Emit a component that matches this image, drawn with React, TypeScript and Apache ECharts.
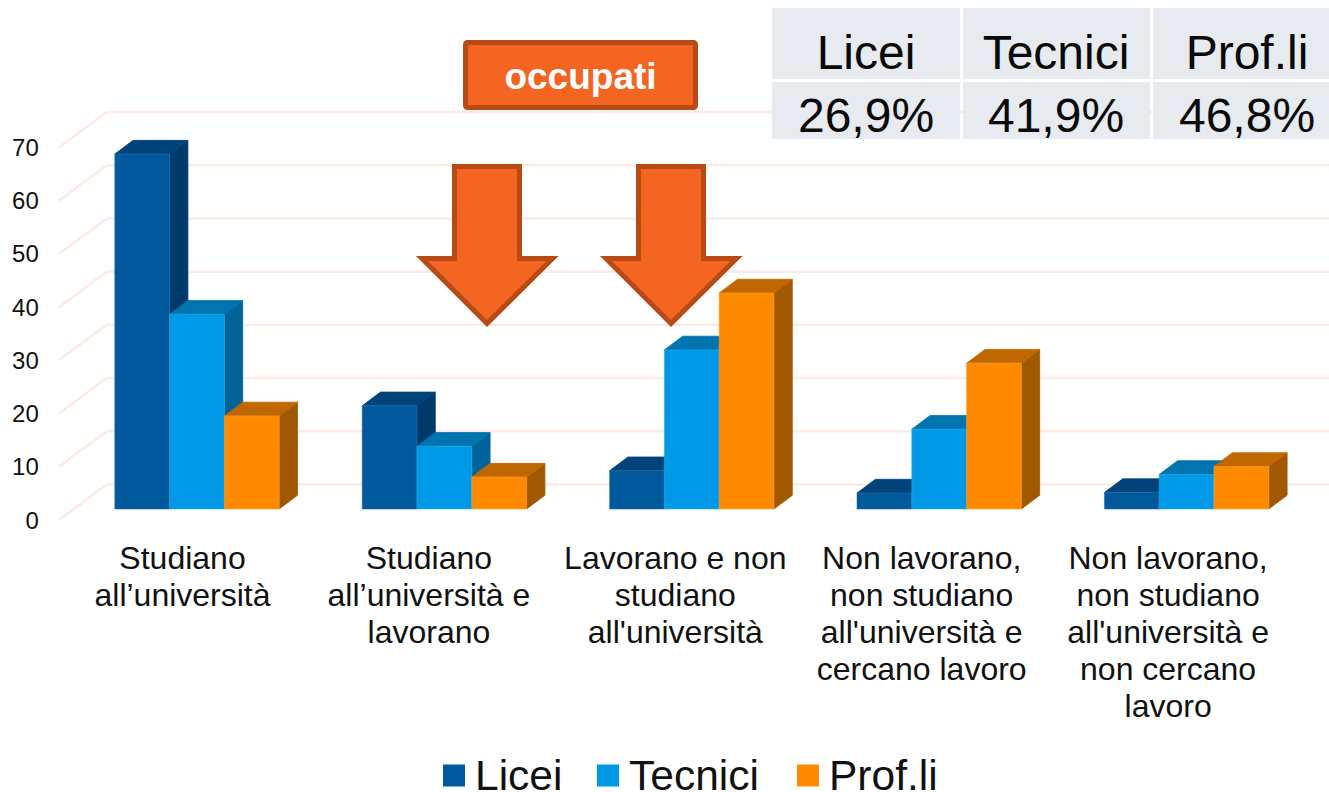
import React, { useEffect, useRef } from "react";
import * as echarts from "echarts";

const categories = [
  "Studiano\nall’università",
  "Studiano\nall’università e\nlavorano",
  "Lavorano e non\nstudiano\nall'università",
  "Non lavorano,\nnon studiano\nall'università e\ncercano lavoro",
  "Non lavorano,\nnon studiano\nall'università e\nnon cercano\nlavoro",
];
const seriesNames = ["Licei", "Tecnici", "Prof.li"];
const licei = [66.7, 19.4, 7.2, 3, 3.1];
const tecnici = [36.6, 11.8, 29.9, 15, 6.5];
const prof = [17.5, 6, 40.6, 27.4, 8];
const yTicks = [0, 10, 20, 30, 40, 50, 60, 70];
const tableHead = ["Licei", "Tecnici", "Prof.li"];
const tableVals = ["26,9%", "41,9%", "46,8%"];
const boxLabel = "occupati";

const FONT = '"Liberation Sans", Arial, sans-serif';
const palette = [
  { front: "#00599C", top: "#00437A", side: "#003A6A", edge: "#2A74AE" },
  { front: "#0099E8", top: "#0074AE", side: "#00649A", edge: "#28ABEE" },
  { front: "#FF8A00", top: "#BF6800", side: "#A05900", edge: "#FF9D2A" },
];

const FLOOR_DX = 48;
const FLOOR_DY = 35.5;
const BAR_DX = 14.5;
const BAR_DY = 11;
const DEPTH_DX = 18.3;
const DEPTH_DY = 13.7;
const BAR_SHARE = 0.2215;
const LEGEND_LEFT = [443, 597, 797];

function barItem(seriesIdx: number) {
  return (params: any, api: any) => {
    const cat = api.value(0);
    const val = api.value(1);
    const top = api.coord([cat, val]);
    const base = api.coord([cat, 0]);
    const band = api.size([1, 0])[0];
    const w = band * BAR_SHARE;
    const x0 = top[0] + BAR_DX + (seriesIdx - 1.5) * w;
    const x1 = x0 + w;
    const y0 = top[1] - BAR_DY;
    const y1 = base[1] - BAR_DY;
    const c = palette[seriesIdx];
    const poly = (points: number[][], fill: string, stroke: string, lineWidth = 0.8) => ({
      type: "polygon",
      shape: { points },
      style: { fill, stroke, lineWidth },
    });
    return {
      type: "group",
      children: [
        poly(
          [[x1, y0], [x1 + DEPTH_DX, y0 - DEPTH_DY], [x1 + DEPTH_DX, y1 - DEPTH_DY], [x1, y1]],
          c.side,
          c.side
        ),
        poly(
          [[x0, y0], [x0 + DEPTH_DX, y0 - DEPTH_DY], [x1 + DEPTH_DX, y0 - DEPTH_DY], [x1, y0]],
          c.top,
          c.top
        ),
        poly([[x0, y0], [x1, y0], [x1, y1], [x0, y1]], c.front, c.edge, 0.6),
      ],
    };
  };
}

function wallLine(params: any, api: any) {
  const tick = api.value(1);
  const p = api.coord([0, tick]);
  const sys = params.coordSys;
  const y = p[1];
  return {
    type: "polyline",
    shape: {
      points: [
        [sys.x, y],
        [sys.x + FLOOR_DX, y - FLOOR_DY],
        [sys.x + sys.width + FLOOR_DX, y - FLOOR_DY],
      ],
    },
    style: { stroke: "#FDEAE2", lineWidth: 2.5, fill: "none" },
  };
}

function arrow(dx: number) {
  const pts = [
    [454.5, 166.5],
    [519.5, 166.5],
    [519.5, 258.5],
    [552.5, 258.5],
    [487, 323.5],
    [422, 258.5],
    [454.5, 258.5],
  ].map(([x, y]) => [x + dx, y]);
  return {
    type: "polygon",
    z: 20,
    shape: { points: pts },
    style: { fill: "#F56522", stroke: "#B84A15", lineWidth: 5, lineJoin: "miter", miterLimit: 10 },
  };
}

function buildTable() {
  const cols = [
    [772, 188],
    [963, 187],
    [1153, 176],
  ];
  const centers = [866, 1056, 1247];
  const rows = [
    { y: 8, h: 71, tc: 52.5, labels: tableHead },
    { y: 82, h: 57, tc: 115, labels: tableVals },
  ];
  const out: any[] = [];
  rows.forEach((r) => {
    cols.forEach((c, i) => {
      out.push({
        type: "rect",
        z: 30,
        shape: { x: c[0], y: r.y, width: c[1], height: r.h },
        style: { fill: "#E7EAEF" },
      });
      out.push({
        type: "text",
        z: 31,
        x: centers[i],
        y: r.tc,
        style: {
          text: r.labels[i],
          font: `48px ${FONT}`,
          fill: "#0A0A0A",
          align: "center",
          verticalAlign: "middle",
        },
      });
    });
  });
  return out;
}

export default function App() {
  const ref = useRef<HTMLDivElement>(null);
  useEffect(() => {
    if (!ref.current) return;
    const chart = echarts.init(ref.current, null, { renderer: "svg" });
    const values = [licei, tecnici, prof];
    chart.setOption({
      animation: false,
      backgroundColor: "#ffffff",
      grid: [
        { left: 58.8, top: 147.5, width: 1237, height: 372.5 },
        { left: 59.3, top: 147.5, width: 1232, height: 372.5 },
      ],
      xAxis: [
        {
          type: "category",
          gridIndex: 0,
          data: categories,
          axisLine: { show: false },
          axisTick: { show: false },
          axisLabel: { show: false },
        },
        {
          type: "category",
          gridIndex: 1,
          data: categories,
          axisLine: { show: false },
          axisTick: { show: false },
          axisLabel: {
            interval: 0,
            margin: 19.5,
            fontFamily: FONT,
            fontSize: 32,
            lineHeight: 37,
            color: "#111111",
            verticalAlign: "top",
          },
        },
      ],
      yAxis: [
        {
          type: "value",
          gridIndex: 0,
          min: 0,
          max: 70,
          interval: 10,
          splitLine: { show: false },
          axisLine: { show: false },
          axisTick: { show: false },
          axisLabel: { margin: 20, fontFamily: FONT, fontSize: 24, color: "#111111" },
        },
        {
          type: "value",
          gridIndex: 1,
          min: 0,
          max: 70,
          show: false,
          splitLine: { show: false },
        },
      ],
      legend: seriesNames.map((name, i) => ({
        left: LEGEND_LEFT[i],
        top: 754,
        padding: 0,
        icon: "rect",
        itemWidth: 22,
        itemHeight: 22,
        data: [name],
        textStyle: {
          fontFamily: FONT,
          fontSize: 42.5,
          lineHeight: 34,
          color: "#111111",
          padding: [0, 0, 0, 5],
        },
      })),
      series: [
        {
          type: "custom",
          name: "grid",
          xAxisIndex: 0,
          yAxisIndex: 0,
          z: 1,
          silent: true,
          renderItem: wallLine,
          encode: { x: 0, y: 1 },
          clip: false,
          data: yTicks.map((t) => [0, t]),
        },
        ...seriesNames.map((name, s) => ({
          type: "custom",
          name,
          xAxisIndex: 0,
          yAxisIndex: 0,
          z: 5 + s,
          itemStyle: { color: palette[s].front },
          renderItem: barItem(s),
          encode: { x: 0, y: 1 },
          data: values[s].map((v, i) => [i, v]),
        })),
      ],
      graphic: [
        arrow(0),
        arrow(184),
        {
          type: "rect",
          z: 20,
          shape: { x: 465.5, y: 42.5, width: 230, height: 65, r: 2 },
          style: { fill: "#F56522", stroke: "#B84A15", lineWidth: 5 },
        },
        {
          type: "text",
          z: 21,
          x: 580.5,
          y: 76,
          style: {
            text: boxLabel,
            font: `bold 37px ${FONT}`,
            fill: "#FFFFFF",
            align: "center",
            verticalAlign: "middle",
          },
        },
        ...buildTable(),
      ],
    });
    return () => chart.dispose();
  }, []);
  return (
    <div
      ref={ref}
      style={{ position: "absolute", left: 0, top: 0, width: 1329, height: 792, overflow: "hidden" }}
    />
  );
}
